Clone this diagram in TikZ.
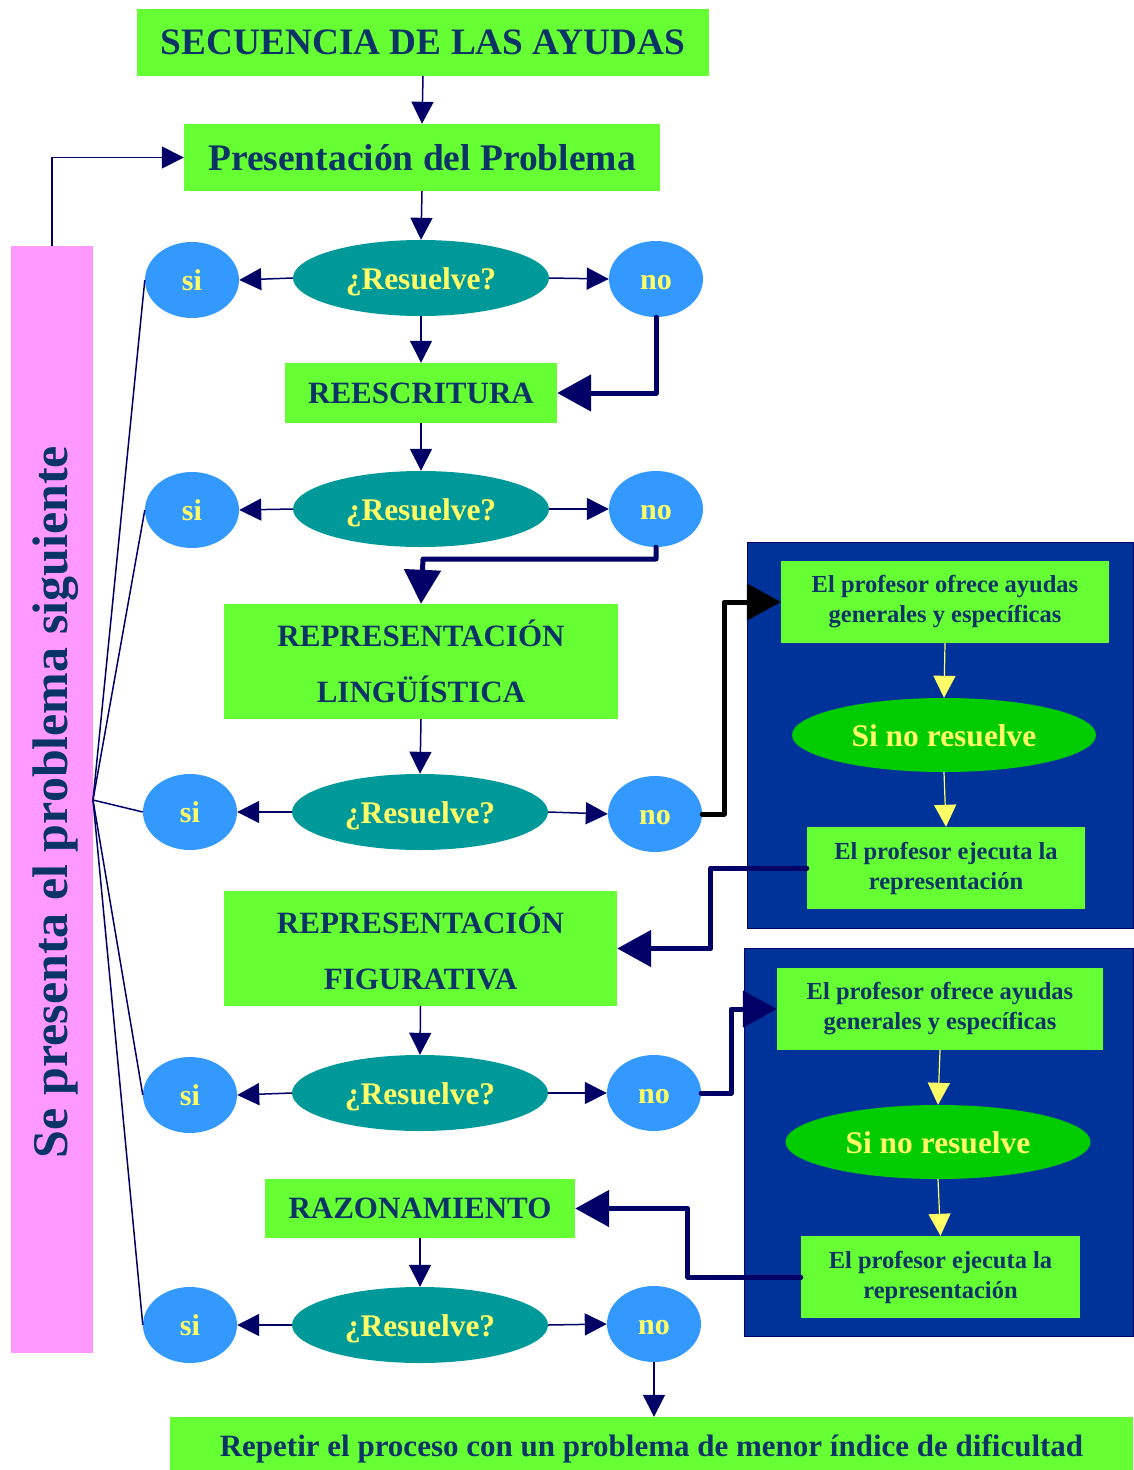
\documentclass[tikz,border=0pt]{standalone}
\usepackage{fontspec}
\setmainfont{Liberation Serif}
\usetikzlibrary{shapes.geometric,arrows.meta}
\definecolor{gr}{HTML}{66FF33}
\definecolor{ntxt}{HTML}{0A3366}
\definecolor{narr}{HTML}{000066}
\definecolor{teal}{HTML}{009999}
\definecolor{lblue}{HTML}{3399FF}
\definecolor{ytxt}{HTML}{FFFF66}
\definecolor{bbox}{HTML}{003399}
\definecolor{egreen}{HTML}{00CC00}
\definecolor{pink}{HTML}{FF99FF}
\begin{document}
\begin{tikzpicture}[x=1pt,y=-1pt,
  gbox/.style={rectangle,fill=gr,inner sep=0pt,text=ntxt,align=center},
  big/.style={font=\fontsize{31}{56}\selectfont\bfseries},
  ctr/.style={text height=#1,text depth=0pt},
  res/.style={ellipse,ctr=22pt,fill=teal,inner sep=0pt,minimum width=256,minimum height=76,text=ytxt,font=\fontsize{31.5}{34}\selectfont\bfseries},
  yn/.style={ellipse,ctr=21pt,fill=lblue,inner sep=0pt,minimum width=94,minimum height=76,text=ytxt,font=\fontsize{30}{34}\selectfont\bfseries},
  sinr/.style={ellipse,ctr=22pt,fill=egreen,inner sep=0pt,minimum width=304,minimum height=74,text=ytxt,font=\fontsize{31.5}{34}\selectfont\bfseries},
  prof/.style={gbox,minimum width=328,minimum height=82,font=\fontsize{24.5}{30}\selectfont\bfseries},
  thin/.style={draw=narr,line width=1.5pt,-{Triangle[length=22pt,width=22pt]}},
  yarr/.style={draw=ytxt,line width=1.2pt,-{Triangle[length=22pt,width=22pt]}},
  thk/.style={draw=narr,line width=5pt,line join=round,line cap=round,-{Triangle[length=34pt,width=36pt]}},
  thkb/.style={thk,draw=black},
  hubl/.style={draw=narr,line width=1.5pt}
]
\useasboundingbox (0,0) rectangle (1133,1470);
% pink bar
\node[rectangle,fill=pink,inner sep=0pt,minimum width=82,minimum height=1107] (pinkbar) at (52,799.5) {};
\node[rotate=90,text=ntxt,font=\fontsize{50}{56}\selectfont\bfseries] (pinktext) at (56,802) {Se presenta el problema siguiente};
% blue boxes
\node[rectangle,fill=bbox,draw=narr,line width=1pt,inner sep=0pt,minimum width=386,minimum height=386] (blue1) at (940,735) {};
\node[rectangle,fill=bbox,draw=narr,line width=1pt,inner sep=0pt,minimum width=389,minimum height=388] (blue2) at (938.5,1142) {};
% main column
\node[gbox,minimum width=572,minimum height=67,font=\fontsize{37.3}{42}\selectfont\bfseries] (title) at (423,42.5) {SECUENCIA DE LAS AYUDAS};
\node[gbox,minimum width=476,minimum height=67,font=\fontsize{37.5}{42}\selectfont\bfseries] (pres) at (422,157.5) {Presentación del Problema};
\node[res] (r1) at (421,278) {¿Resuelve?};
\node[yn] (si1) at (192,280) {si};
\node[yn] (no1) at (656,279) {no};
\node[gbox,big,minimum width=272,minimum height=60] (rees) at (421,393) {REESCRITURA};
\node[res] (r2) at (421,509) {¿Resuelve?};
\node[yn] (si2) at (192,510) {si};
\node[yn] (no2) at (656,509) {no};
\node[gbox,big,minimum width=394,minimum height=115] (rl) at (421,661.5) {REPRESENTACIÓN\\LINGÜÍSTICA};
\node[res] (r3) at (420,812) {¿Resuelve?};
\node[yn] (si3) at (190,812) {si};
\node[yn] (no3) at (655,814) {no};
\node[gbox,big,minimum width=393,minimum height=115] (rf) at (420.5,948.5) {REPRESENTACIÓN\\FIGURATIVA};
\node[res] (r4) at (420,1093) {¿Resuelve?};
\node[yn] (si4) at (190,1095) {si};
\node[yn] (no4) at (654,1093) {no};
\node[gbox,big,minimum width=310,minimum height=59] (raz) at (420,1208.5) {RAZONAMIENTO};
\node[res] (r5) at (420,1325) {¿Resuelve?};
\node[yn] (si5) at (190,1325) {si};
\node[yn] (no5) at (654,1324) {no};
\node[gbox,ctr=25pt,minimum width=963,minimum height=53,font=\fontsize{31}{34}\selectfont\bfseries] (final) at (651.5,1443.5) {Repetir el proceso con un problema de menor índice de dificultad};
% right boxes
\node[prof] (b1a) at (945,602) {El profesor ofrece ayudas\\generales y específicas};
\node[sinr] (e1) at (944,735) {Si no resuelve};
\node[prof,minimum width=278] (b1b) at (946,868) {El profesor ejecuta la\\representación};
\node[prof,minimum width=326] (b2a) at (940,1009) {El profesor ofrece ayudas\\generales y específicas};
\node[sinr,minimum width=305] (e2) at (938,1142) {Si no resuelve};
\node[prof,minimum width=279] (b2b) at (940.5,1277) {El profesor ejecuta la\\representación};
% hub
\coordinate (hub) at (93,800);
\foreach \s in {si1,si2,si3,si4,si5} \draw[hubl] (hub) -- (\s.west);
\draw[thin] (pinkbar.north) |- (pres.west);
% thin arrows
\draw[thin] (title.south) -- (pres.north);
\draw[thin] (pres.south) -- (r1.north);
\draw[thin] (r1.south) -- (rees.north);
\draw[thin] (rees.south) -- (r2.north);
\draw[thin] (rl.south) -- (r3.north);
\draw[thin] (rf.south) -- (r4.north);
\draw[thin] (raz.south) -- (r5.north);
\draw[thin] (no5.south) -- (final.north -| no5.south);
\foreach \n in {1,2,3,4,5} {
  \draw[thin] (r\n.west) -- (si\n.east);
  \draw[thin] (r\n.east) -- (no\n.west);
}
% yellow arrows
\draw[yarr] (b1a.south) -- (e1.north);
\draw[yarr] (e1.south) -- (b1b.north);
\draw[yarr] (b2a.south) -- (e2.north);
\draw[yarr] (e2.south) -- (b2b.north);
% thick arrows
\draw[thk] (no1.south) |- (rees.east);
\coordinate (c2) at (423,559);
\draw[thk] (no2.south) |- (c2) -- (rl.north);
\draw[thkb] (no3.east) -- ++(22,0) |- (b1a.west);
\draw[thk] (b1b.west) -- ++(-96,0) |- (rf.east);
\draw[thk] (no4.east) -- ++(30,0) |- (b2a.west);
\draw[thk] (b2b.west) -- ++(-113,0) |- (raz.east);
\end{tikzpicture}
\end{document}
